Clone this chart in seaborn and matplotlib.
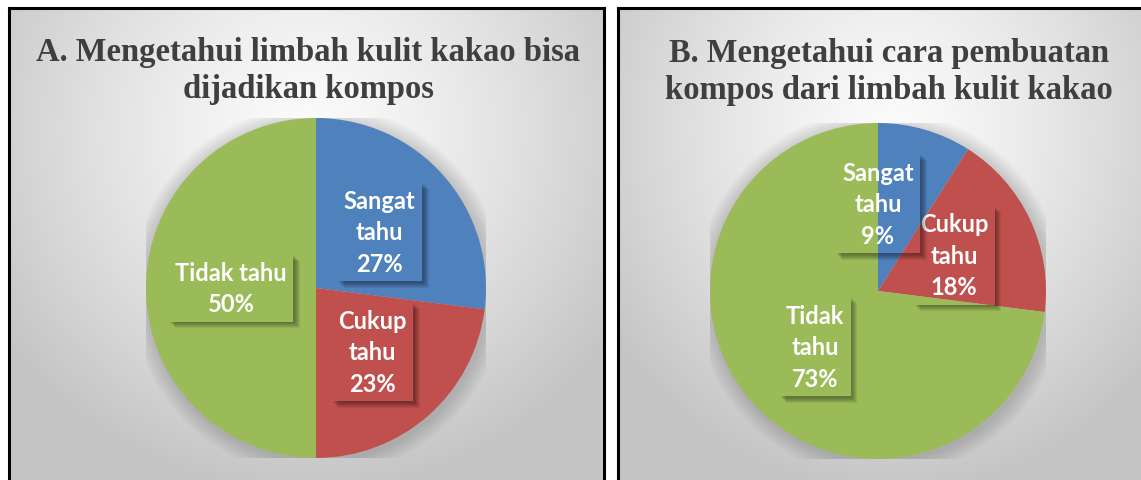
import numpy as np
import matplotlib
matplotlib.use("Agg")
import matplotlib.pyplot as plt
import seaborn as sns
from matplotlib.patches import Rectangle, Circle
from matplotlib.transforms import IdentityTransform

# ---------------- data ----------------
categories = ["Sangat tahu", "Cukup tahu", "Tidak tahu"]
values_a = [27, 23, 50]
values_b = [9, 18, 73]
labels_a = ["Sangat\ntahu\n27%", "Cukup\ntahu\n23%", "Tidak tahu\n50%"]
labels_b = ["Sangat\ntahu\n9%", "Cukup\ntahu\n18%", "Tidak\ntahu\n73%"]
title_a = "A. Mengetahui limbah kulit kakao bisa\ndijadikan kompos"
title_b = "B. Mengetahui cara pembuatan\nkompos dari limbah kulit kakao"
slice_colors = ["#4F81BD", "#C0504D", "#9BBB59"]

sns.set_theme(style="white")
palette = sns.color_palette(slice_colors)

W, H = 1141, 481
DPI = 100
fig = plt.figure(figsize=(W / DPI, H / DPI), dpi=DPI, facecolor="white")


def px_axes(x0, y0, x1, y1, **kw):
    """axes from pixel box (top-left origin)."""
    return fig.add_axes([x0 / W, 1 - y1 / H, (x1 - x0) / W, (y1 - y0) / H], **kw)


def panel(x0, y0, x1, y1, cx_frac, cy_frac):
    ax = px_axes(x0, y0, x1, y1)
    w, h = int(x1 - x0), int(y1 - y0)
    yy, xx = np.mgrid[0:h, 0:w]
    cx, cy = cx_frac * w, cy_frac * h
    d = np.sqrt(((xx - cx) / (0.62 * w)) ** 2 + ((yy - cy) / (0.75 * h)) ** 2)
    d = np.clip(d, 0, 1)
    lo, hi = 0.985, 0.77
    val = lo + (hi - lo) * d ** 1.3
    img = np.dstack([val, val, val])
    ax.imshow(img, extent=(0, w, h, 0), aspect="auto", interpolation="bilinear")
    ax.set_xlim(0, w)
    ax.set_ylim(h, 0)
    ax.set_xticks([])
    ax.set_yticks([])
    for s in ax.spines.values():
        s.set_visible(True)
        s.set_color("black")
        s.set_linewidth(2.2)
    return ax


panel(9, 9, 604, 495, 0.5, 0.25)
panel(618, 9, 1165, 495, 0.5, 0.25)

fig.text(308 / W, 1 - 71 / H, title_a, ha="center", va="center",
         fontsize=23.5, fontweight="bold", family="Liberation Serif",
         color="#3F3F3F", linespacing=1.24)
fig.text(889 / W, 1 - 72 / H, title_b, ha="center", va="center",
         fontsize=23.5, fontweight="bold", family="Liberation Serif",
         color="#3F3F3F", linespacing=1.24)

label_font = dict(color="white", fontsize=17, fontweight="bold", family="Lato")


def pie_chart(cx, cy, r, values, labels):
    ax = px_axes(cx - r, cy - r, cx + r, cy + r)
    ax.set_facecolor("none")
    # soft shadow around pie
    for k in range(8, 0, -1):
        ax.add_patch(Circle((0.01, -0.015), 1 + 0.012 * k, color="black",
                            alpha=0.018, lw=0, zorder=0))
    wedges, texts = ax.pie(values, labels=labels, colors=palette, startangle=90,
                           counterclock=False, labeldistance=0.5, radius=1,
                           wedgeprops=dict(linewidth=0), textprops=label_font)
    for t in texts:
        t.set_ha("center")
        t.set_va("center")
        t.set_multialignment("center")
        t.set_linespacing(1.45)
        t.set_bbox(dict(boxstyle="square,pad=0.28", fc="none", ec="none"))
    ax.set_xlim(-1, 1)
    ax.set_ylim(-1, 1)
    ax.set_aspect("equal")
    ax.axis("off")
    return ax, texts


ax_a, texts_a = pie_chart(316, 289, 170, values_a, labels_a)
ax_b, texts_b = pie_chart(878, 292, 168, values_b, labels_b)
texts_b[0].set_position((0.0, 0.52))

# drop shadows of label boxes
fig.canvas.draw()
renderer = fig.canvas.get_renderer()
for t in list(texts_a) + list(texts_b):
    bb = t.get_bbox_patch().get_window_extent(renderer)
    for o in [1.5, 2.5, 3.5, 4.5, 5.5, 6.5]:
        fig.add_artist(Rectangle((bb.x1, bb.y0 - o), o, bb.height, fc="black",
                                 alpha=0.07, lw=0, transform=IdentityTransform()))
        fig.add_artist(Rectangle((bb.x0 + o, bb.y0 - o), bb.width - o, o, fc="black",
                                 alpha=0.07, lw=0, transform=IdentityTransform()))

fig.savefig("out.png", dpi=DPI, facecolor="white")
